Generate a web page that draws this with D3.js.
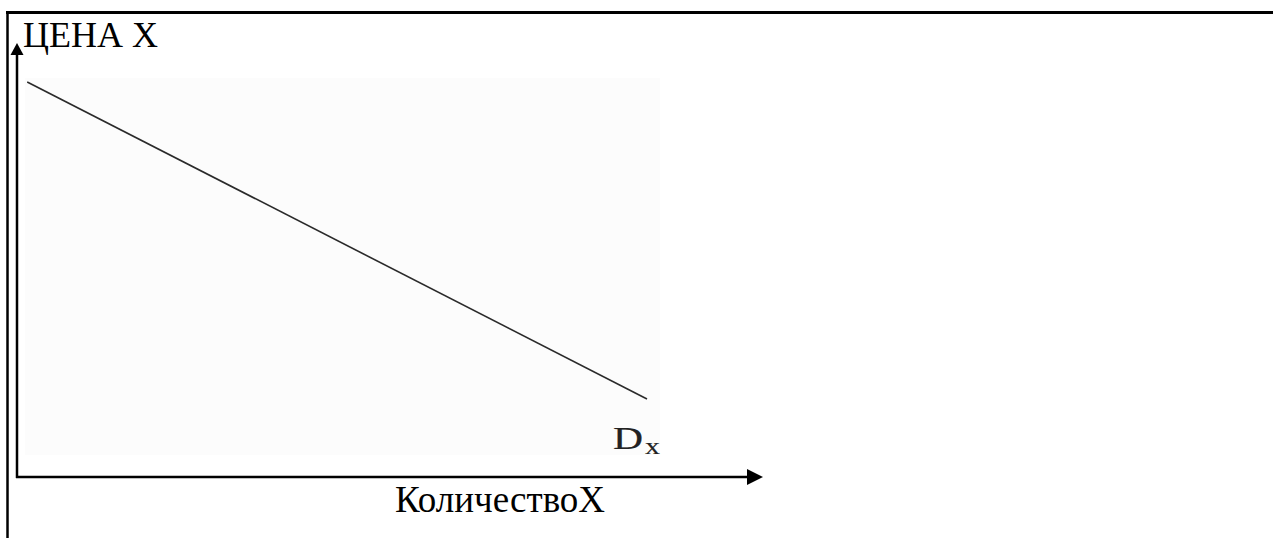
<!DOCTYPE html>
<html>
<head>
<meta charset="utf-8">
<script src="https://cdn.jsdelivr.net/npm/d3@7"></script>
<style>
	body { margin: 0; background: #fff; }
	svg { display: block; }
	text { font-family: "Liberation Serif", "Times New Roman", serif; }
</style>
</head>
<body>
<div id="chart"></div>
<script>
// demand curve (arbitrary units 0..100)
var quantity = [1.4, 86.3];
var price = [93.6, 18.5];
var curveLabel = "D";
var curveSub = "x";
var yTitle = "ЦЕНА X";
var xTitle = "КоличествоX";

var W = 1273, H = 538;

var svg = d3.select("#chart")
	.append("svg")
	.attr("width", W)
	.attr("height", H);

// table cell borders
svg.append("line")
	.attr("x1", 6).attr("x2", W)
	.attr("y1", 12.5).attr("y2", 12.5)
	.attr("stroke", "#000").attr("stroke-width", 3);
svg.append("line")
	.attr("x1", 7.5).attr("x2", 7.5)
	.attr("y1", 11).attr("y2", H)
	.attr("stroke", "#000").attr("stroke-width", 2.5);

var x = d3.scaleLinear().domain([0, 100]).range([17, 747]);
var y = d3.scaleLinear().domain([0, 100]).range([477, 55]);

// pasted picture background (very faint)
svg.append("rect")
	.attr("x", 25).attr("y", 78)
	.attr("width", 635).attr("height", 377)
	.attr("fill", "#fcfcfc");

// axes
svg.append("line")
	.attr("x1", x(0)).attr("x2", x(0))
	.attr("y1", y(0) + 1).attr("y2", y(100))
	.attr("stroke", "#000").attr("stroke-width", 2.5);
svg.append("line")
	.attr("x1", x(0) - 1).attr("x2", x(100))
	.attr("y1", y(0)).attr("y2", y(0))
	.attr("stroke", "#000").attr("stroke-width", 2.5);

// arrow heads
svg.append("path")
	.attr("d", "M" + (x(0) - 6.5) + "," + y(100) + "L" + (x(0) + 6.5) + "," + y(100) + "L" + x(0) + "," + (y(100) - 12) + "Z")
	.attr("fill", "#000");
svg.append("path")
	.attr("d", "M" + x(100) + "," + (y(0) - 8) + "L" + x(100) + "," + (y(0) + 8) + "L" + (x(100) + 16) + "," + y(0) + "Z")
	.attr("fill", "#000");

// demand line
var pts = quantity.map(function (q, i) { return [q, price[i]]; });
svg.append("path")
	.datum(pts)
	.attr("fill", "none")
	.attr("stroke", "#2a2a2a")
	.attr("stroke-width", 1.6)
	.attr("d", d3.line()
		.x(function (d) { return x(d[0]); })
		.y(function (d) { return y(d[1]); }));

// labels
svg.append("text")
	.attr("x", 23)
	.attr("y", 47)
	.attr("font-size", 36)
	.attr("fill", "#000")
	.text(yTitle);

svg.append("text")
	.attr("x", 395)
	.attr("y", 512)
	.attr("font-size", 37)
	.attr("fill", "#000")
	.text(xTitle);

// curve label, stretched like the pasted picture
var dx = svg.append("text")
	.attr("transform", "translate(" + (x(quantity[1]) - 34) + ",449) scale(1.3,1)")
	.style("font-size", "32px")
	.attr("fill", "#222")
	.attr("stroke", "#222")
	.attr("stroke-width", 0.2);
dx.append("tspan").text(curveLabel);
dx.append("tspan")
	.style("font-size", "23px")
	.attr("dy", 5)
	.attr("dx", 1.5)
	.text(curveSub);
</script>
</body>
</html>
